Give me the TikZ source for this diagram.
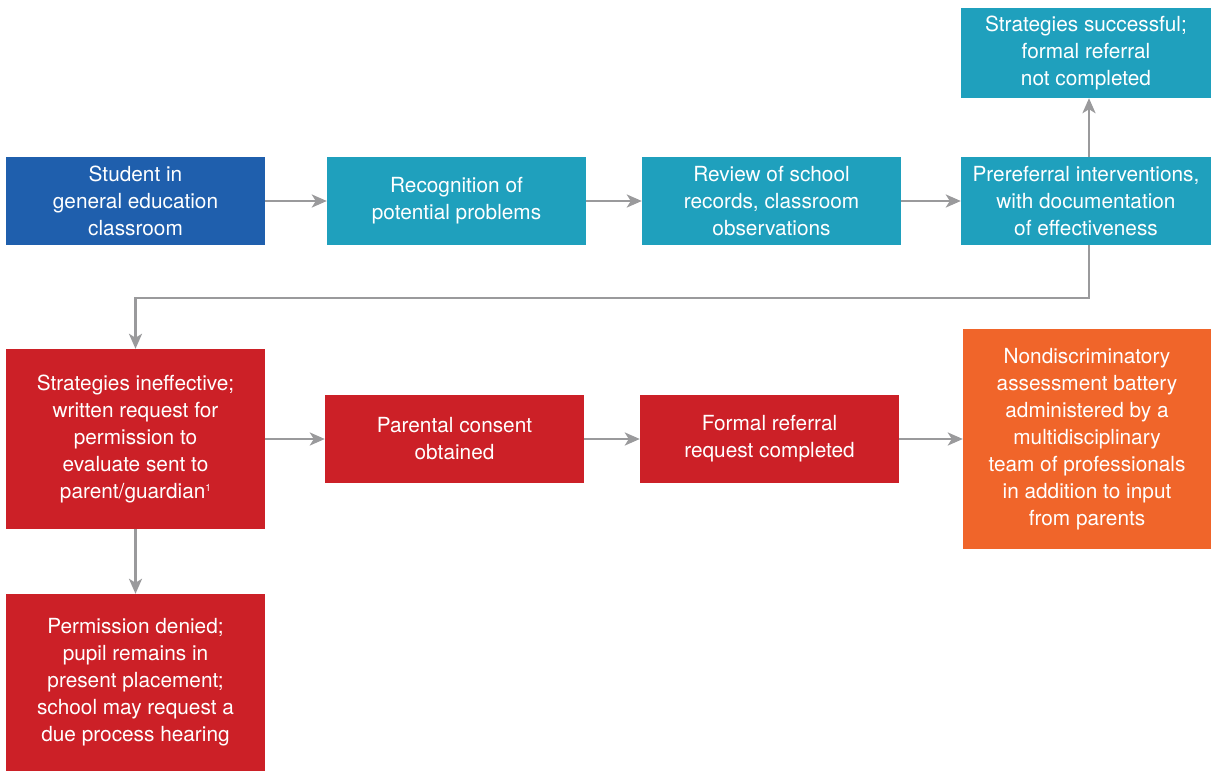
\documentclass[tikz,border=0pt]{standalone}
\usepackage{fontspec}
\setmainfont{TeX Gyre Heros}
\usetikzlibrary{arrows.meta}
\definecolor{navy}{HTML}{1F5FAD}
\definecolor{teal}{HTML}{1FA0BD}
\definecolor{crimson}{HTML}{CC2027}
\definecolor{tangerine}{HTML}{F0652A}
\definecolor{wire}{HTML}{9A9A9C}
\begin{document}
\begin{tikzpicture}[x=1pt,y=-1pt,
    box/.style={fill=#1,text=white,inner sep=0pt,minimum width=259pt,minimum height=88pt,
      align=center,font=\fontsize{20.8}{27}\selectfont},
    link/.style={wire,line width=2.6pt,-{Stealth[length=15pt,width=13pt,inset=4pt]}}]
  \useasboundingbox (0,0) rectangle (1211,771);

  \node[box=navy] (student) at (135.5,201) {Student in\\general education\\classroom};
  \node[box=teal] (recog) at (456.5,201) {Recognition of\\potential problems};
  \node[box=teal] (review) at (771.5,201) {Review of school\\records, classroom\\observations};
  \node[box=teal,minimum width=250pt] (prefer) at (1086,201) {Prereferral interventions,\\with documentation\\of effectiveness};
  \node[box=teal,minimum width=250pt,minimum height=90pt] (success) at (1086,53) {Strategies successful;\\formal referral\\not completed};

  \node[box=crimson,minimum height=180pt] (request) at (135.5,439) {Strategies ineffective;\\written request for\\permission to\\evaluate sent to\\parent/guardian{\fontsize{10}{10}\selectfont\raisebox{7pt}{1}}};
  \node[box=crimson] (consent) at (454.5,439) {Parental consent\\obtained};
  \node[box=crimson] (formal) at (769.5,439) {Formal referral\\request completed};
  \node[box=tangerine,minimum width=248pt,minimum height=220pt] (battery) at (1087,439) {Nondiscriminatory\\assessment battery\\administered by a\\multidisciplinary\\team of professionals\\in addition to input\\from parents};
  \node[box=crimson,minimum height=177pt] (denied) at (135.5,682.5) {Permission denied;\\pupil remains in\\present placement;\\school may request a\\due process hearing};

  \coordinate (turn) at (600,298);

  \foreach \a/\b in {student/recog, recog/review, review/prefer, request/consent, consent/formal, formal/battery}
    \draw[link] (\a) -- (\b);
  \draw[link] ([xshift=3pt]prefer.north) -- ([xshift=3pt]success.south);
  \draw[link] ([xshift=3pt]prefer.south) |- (turn) -| (request.north);
  \draw[link] (request) -- (denied);
\end{tikzpicture}
\end{document}
